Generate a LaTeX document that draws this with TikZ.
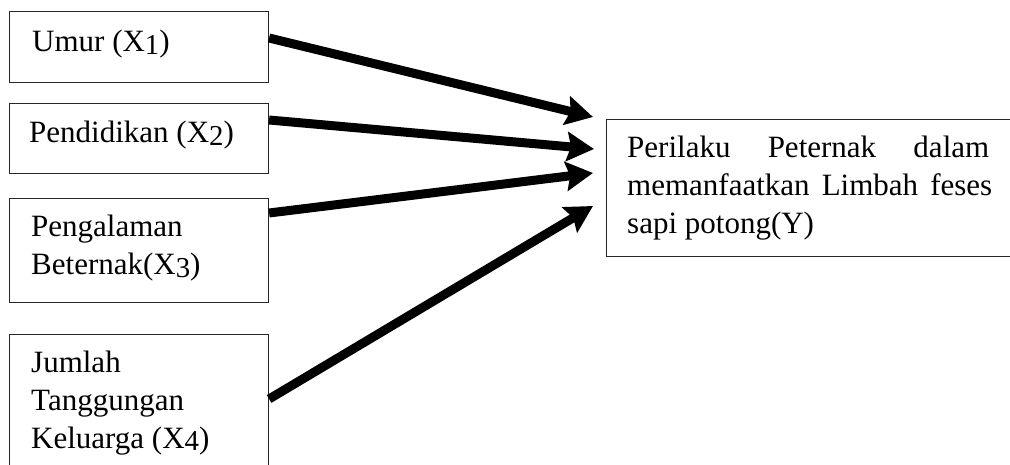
\documentclass[tikz,border=0pt]{standalone}
\usepackage{fontspec}
\setmainfont{Liberation Serif}
\usetikzlibrary{arrows.meta,calc}
% lowered index digit, as in X1, X2, ...
\newcommand{\idx}[1]{\raisebox{-2.5pt}{\scalebox{0.93}{#1}}}
% text block whose reference point is the baseline of its first line
\newcommand{\toplines}[2]{\parbox[t]{#1}{\raggedright #2}}
\begin{document}
\begin{tikzpicture}[x=1pt,y=-1pt,
  box/.style={draw=black!85, line width=1.1pt, rectangle, anchor=north west, inner sep=0pt},
  lbl/.style={anchor=base west, inner sep=0pt, font=\fontsize{31}{38}\selectfont},
  arr/.style={line width=9pt, -{Stealth[length=27pt,width=29pt,inset=4pt]}}]
\useasboundingbox (0,0) rectangle (1010,465);
\clip (0,0) rectangle (1010,465);

% independent variables
\node[box, minimum width=259pt, minimum height=71pt]  (x1) at (9,11)  {};
\node[box, minimum width=259pt, minimum height=70pt]  (x2) at (9,103) {};
\node[box, minimum width=259pt, minimum height=104pt] (x3) at (9,198) {};
\node[box, minimum width=259pt, minimum height=200pt] (x4) at (9,334) {};

% dependent variable
\node[box, minimum width=450pt, minimum height=137pt] (y) at (606,119) {};

% labels
\node[lbl] (l1) at (32,52)  {Umur (X\idx{1})};
\node[lbl] (l2) at (29,143) {Pendidikan (X\idx{2})};
\node[lbl] (l3) at (31,237) {\toplines{220pt}{Pengalaman\\Beternak(X\idx{3})}};
\node[lbl] (l4) at (31,372) {\toplines{220pt}{Jumlah\\Tanggungan\\Keluarga (X\idx{4})}};
\node[lbl] (ly) at (627,158) {\toplines{370pt}{\makebox[362pt][s]{Perilaku\hfill Peternak\hfill dalam}\\
  \makebox[365pt][s]{memanfaatkan\hfill Limbah\hfill feses}\\
  sapi potong(Y)}};

% arrow tips in front of the dependent variable
\coordinate (t1) at (593,117);
\coordinate (t2) at (594,149);
\coordinate (t3) at (593,173);
\coordinate (t4) at (593,206);

\draw[arr] ($(x1.north east)+(0,27)$) -- (t1);
\draw[arr] ($(x2.north east)+(0,17)$) -- (t2);
\draw[arr] ($(x3.north east)+(0,15)$) -- (t3);
\draw[arr] ($(x4.north east)+(0,65)$) -- (t4);
\end{tikzpicture}
\end{document}
